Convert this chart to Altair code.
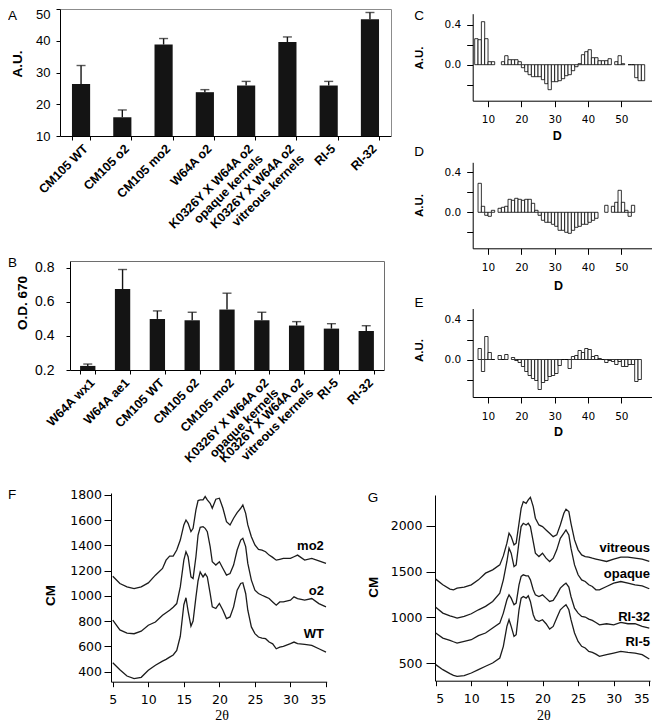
import altair as alt
import pandas as pd

# ---------------- data ----------------
A_cats = ["CM105 WT", "CM105 o2", "CM105 mo2", "W64A o2",
          "K0326Y X W64A o2|opaque kernels", "K0326Y X W64A o2|vitreous kernels",
          "RI-5", "RI-32"]
A_vals = [26.4, 15.9, 38.8, 23.8, 25.9, 39.6, 25.9, 46.8]
A_errs = [32.2, 18.2, 40.7, 24.6, 27.2, 41.2, 27.2, 48.9]

B_cats = ["W64A wx1", "W64A ae1", "CM105 WT", "CM105 o2", "CM105 mo2",
          "K0326Y X W64A o2|opaque kernels", "K0326Y X W64A o2|vitreous kernels",
          "RI-5", "RI-32"]
B_vals = [0.224, 0.675, 0.500, 0.492, 0.555, 0.492, 0.461, 0.443, 0.429]
B_errs = [0.235, 0.790, 0.547, 0.539, 0.651, 0.539, 0.484, 0.472, 0.460]

C_dp = [6, 7, 8, 9, 10, 11,
        14, 15, 16, 17, 18, 19,
        20, 21, 22, 23, 24, 25, 26, 27, 28, 29, 30, 31, 32, 33, 34, 35, 36,
        37, 38, 39, 40, 41, 42, 43, 44, 45, 46,
        48, 49, 50,
        52, 53, 54, 55, 56]
C_val = [0.26, 0.25, 0.43, 0.26, 0.03, 0.03,
         0.03, 0.09, 0.05, 0.05, 0.05, 0.03,
         -0.03, -0.07, -0.10, -0.12, -0.12, -0.12, -0.15, -0.19, -0.25, -0.17, -0.17, -0.16, -0.14, -0.11, -0.10, -0.06, -0.02,
         0.01, 0.10, 0.13, 0.15, 0.07, 0.07, 0.04, 0.04, 0.04, 0.06,
         0.03, 0.09, 0.01,
         0.0, 0.0, -0.13, -0.16, -0.16]

D_dp = [7, 8, 9, 10, 11,
        13, 14, 15, 16, 17, 18, 19, 20, 21, 22, 23, 24,
        25, 26, 27, 28, 29, 30, 31, 32, 33, 34, 35, 36, 37, 38, 39, 40, 41, 42,
        45, 47, 48, 49, 50, 51, 52, 53]
D_val = [0.29, 0.06, -0.03, -0.04, 0.02,
         0.04, 0.05, 0.06, 0.13, 0.12, 0.14, 0.13, 0.12, 0.13, 0.13, 0.09, 0.02,
         -0.03, -0.08, -0.10, -0.10, -0.12, -0.14, -0.18, -0.18, -0.20, -0.21, -0.18, -0.15, -0.14, -0.12, -0.12, -0.10, -0.08, -0.06,
         0.07, 0.06, 0.10, 0.22, 0.10, 0.02, -0.04, 0.07]

E_dp = [7, 8, 9, 10, 11,
        13, 14, 15,
        17, 18, 19, 20, 21, 22, 23, 24, 25, 26, 27, 28, 29, 30, 31, 32, 33, 34,
        35, 36, 37, 38, 39, 40, 41, 42, 43,
        44, 45, 46, 47, 48, 49, 50, 51, 52, 53, 54, 55]
E_val = [0.11, -0.12, 0.23, 0.07, 0.0,
         0.04, 0.0, 0.05,
         0.02, -0.01, -0.03, -0.07, -0.12, -0.16, -0.19, -0.21, -0.30, -0.23, -0.21, -0.17, -0.16, -0.14, -0.06, 0.0, 0.0, -0.09,
         0.03, 0.04, 0.09, 0.07, 0.11, 0.10, 0.03, 0.04, 0.01,
         0.0, -0.03, -0.01, -0.02, -0.05, -0.02, -0.07, -0.07, -0.05, -0.05, -0.22, -0.20]

F_x = [5, 6, 7, 8, 9, 10, 11, 12, 12.5, 13, 13.5, 14, 14.5, 15, 15.3, 15.6, 16, 16.3, 16.7,
       17, 17.3, 17.7, 18, 18.3, 18.7, 19, 19.5, 20, 20.5, 21, 21.5, 22, 22.5, 23, 23.3, 23.7,
       24, 24.5, 25, 25.5, 26, 26.5, 27, 27.5, 28, 28.5, 29, 30, 30.5, 31, 32, 33, 34, 35]
F_WT = [470, 415, 365, 345, 355, 410, 450, 483, 497, 515, 532, 568, 680, 930, 985, 880, 760, 800, 990,
        1120, 1190, 1150, 1175, 1150, 1020, 913, 900, 940, 886, 820, 833, 913, 1045, 1098, 1104, 1019,
        886, 754, 701, 674, 666, 661, 634, 620, 581, 594, 600, 621, 634, 621, 616, 608, 581, 555]
F_o2 = [807, 730, 705, 700, 720, 767, 793, 846, 866, 886, 910, 939, 1071, 1283, 1350, 1310, 1151, 1138, 1310,
        1482, 1543, 1548, 1535, 1509, 1390, 1270, 1244, 1270, 1217, 1164, 1177, 1244, 1363, 1442, 1456, 1390,
        1257, 1125, 1045, 1019, 1005, 992, 979, 952, 926, 952, 952, 966, 992, 979, 966, 979, 939, 913]
F_mo2 = [1156, 1098, 1071, 1058, 1071, 1103, 1164, 1217, 1283, 1315, 1315, 1363, 1442, 1562, 1601, 1575, 1509, 1535, 1681,
         1755, 1760, 1760, 1787, 1760, 1734, 1694, 1766, 1774, 1694, 1588, 1562, 1615, 1660, 1694, 1720, 1654,
         1562, 1469, 1403, 1368, 1363, 1350, 1323, 1305, 1283, 1290, 1297, 1297, 1310, 1323, 1283, 1297, 1278, 1257]
F_names = ["mo2", "o2", "WT"]
F_label_y = [1395, 1041, 698]

G_x = [5, 6, 7, 7.5, 8, 9, 10, 11, 12, 13, 14, 14.5, 15, 15.3, 15.6, 16, 16.3, 16.7,
       17, 17.3, 17.7, 18, 18.3, 18.7, 19, 19.5, 20, 20.5, 21, 21.5, 22, 22.5, 23, 23.3, 23.7,
       24, 24.5, 25, 25.5, 26, 26.5, 27, 27.5, 28, 29, 30, 31, 32, 33, 34, 35]
G_vit = [1417, 1355, 1308, 1301, 1319, 1330, 1355, 1409, 1482, 1518, 1572, 1670, 1808, 1917, 1880, 1790, 1808, 2025,
         2188, 2261, 2243, 2279, 2308, 2207, 2080, 2007, 1989, 1953, 1917, 1880, 1899, 2007, 2134, 2178, 2152,
         2025, 1844, 1736, 1681, 1663, 1656, 1645, 1636, 1627, 1609, 1634, 1656, 1656, 1645, 1634, 1609]
G_opq = [1112, 1047, 1018, 1005, 993, 1011, 1040, 1083, 1120, 1174, 1265, 1409, 1609, 1754, 1699, 1554, 1572, 1826,
         1989, 2025, 2007, 2025, 1989, 1826, 1699, 1663, 1699, 1645, 1609, 1645, 1736, 1862, 1917, 1953, 1899,
         1754, 1572, 1464, 1409, 1391, 1355, 1337, 1301, 1301, 1337, 1373, 1391, 1373, 1355, 1344, 1312]
G_r32 = [830, 775, 750, 735, 721, 739, 757, 801, 830, 884, 938, 1047, 1192, 1246, 1210, 1138, 1156, 1355,
         1446, 1464, 1453, 1453, 1409, 1301, 1246, 1228, 1246, 1210, 1174, 1185, 1246, 1319, 1355, 1373, 1330,
         1228, 1101, 1047, 1011, 1004, 982, 967, 945, 920, 931, 920, 946, 931, 931, 902, 884]
G_r5 = [486, 431, 388, 370, 359, 366, 395, 431, 468, 504, 558, 685, 902, 975, 902, 794, 812, 1083,
        1210, 1228, 1210, 1236, 1174, 1029, 975, 957, 975, 931, 873, 902, 993, 1083, 1120, 1138, 1083,
        975, 830, 739, 685, 667, 630, 620, 600, 576, 594, 612, 630, 620, 612, 594, 547]
G_names = ["vitreous", "opaque", "RI-32", "RI-5"]
G_label_y = [1756, 1473, 1008, 736]

# ---------------- layout (plot coordinates) ----------------
W, H = 644, 716
SANS = "Liberation Sans"
NUM = "DejaVu Sans"
SERIF = "Liberation Serif"
INK = "#141414"


def bar_panel(cats, vals, errs, xr, yr, ydom, yvals, yfmt, ytitle, tpos,
              ylab_size, ylab_pad, frame_color, top_shift):
    df = pd.DataFrame({"cat": cats, "val": vals, "err": errs})
    xs = alt.Scale(domain=cats, range=list(xr), paddingInner=0.56, paddingOuter=0.29)
    ys = alt.Scale(domain=ydom, range=list(yr), zero=False, nice=False)
    xaxis = alt.Axis(orient="bottom", offset=yr[0] - H, title=None,
                     labelExpr="split(datum.label, '|')", labelAngle=315,
                     labelAlign="right", labelBaseline="top", labelFont=SANS,
                     labelFontWeight="bold", labelFontSize=12.5, labelLineHeight=14,
                     labelPadding=2, labelOverlap=False, labelLimit=400,
                     tickSize=4, tickBand="extent")
    yaxis = alt.Axis(orient="left", offset=-xr[0], values=yvals, format=yfmt,
                     title=ytitle, titleX=tpos[0] - xr[0], titleY=tpos[1],
                     titleAngle=270, titleAlign="center", titleBaseline="middle",
                     titleFont=SANS, titleFontSize=13.5, titleFontWeight="bold",
                     labelFont=SANS, labelFontSize=ylab_size, labelPadding=ylab_pad,
                     labelOffset={"condition": {"test": "datum.value == %s" % yvals[-1],
                                                "value": top_shift}, "value": 0},
                     tickSize=4)
    bars = alt.Chart(df).mark_bar(color=INK).encode(
        x=alt.X("cat:N", sort=cats, scale=xs, axis=xaxis),
        y=alt.Y("val:Q", scale=ys, axis=yaxis),
        y2=alt.datum(ydom[0]))
    top_axis = alt.Axis(orient="top", offset=-yr[1], labels=False, ticks=False,
                        title=None, domainColor=frame_color)
    right_axis = alt.Axis(orient="right", offset=xr[1] - W, labels=False, ticks=False,
                          title=None, domainColor=frame_color)
    rules = alt.Chart(df).mark_rule(color=INK, strokeWidth=1.4).encode(
        x=alt.X("cat:N", sort=cats, scale=xs, axis=top_axis),
        y=alt.Y("val:Q", scale=ys, axis=right_axis),
        y2=alt.Y2("err"))
    caps = alt.Chart(df).mark_tick(color=INK, thickness=1.4, size=9).encode(
        x=alt.X("cat:N", sort=cats, scale=xs, axis=None),
        y=alt.Y("err:Q", scale=ys, axis=None))
    return [bars, rules, caps]


def dp_panel(dps, vals, yr, ydom, xtitle_pos, ytitle_y):
    df = pd.DataFrame({"dp": dps, "val": vals})
    xr = (464.7, 644.7)
    xs = alt.Scale(domain=[5.4, 59.4], range=list(xr), zero=False, nice=False)
    ys = alt.Scale(domain=ydom, range=list(yr), zero=False, nice=False)
    xaxis = alt.Axis(orient="bottom", offset=yr[0] - H, values=[10, 20, 30, 40, 50],
                     title="D", titleX=xtitle_pos[0], titleY=xtitle_pos[1] - yr[0],
                     titleAlign="center", titleBaseline="middle", titleFont=SANS,
                     titleFontSize=12.5, titleFontWeight="bold",
                     labelFont=NUM, labelFontSize=10.5, tickSize=6, labelPadding=8)
    yaxis = alt.Axis(orient="left", offset=-xr[0], values=[-0.2, 0, 0.2, 0.4], format=".1f",
                     labelExpr="datum.value == 0 || datum.value == 0.4 ? datum.label : ''",
                     title="A.U.", titleX=411 - xr[0], titleY=ytitle_y, titleAngle=270,
                     titleAlign="center", titleBaseline="middle", titleFont=SANS,
                     titleFontSize=11.5, titleFontWeight="bold",
                     labelFont=NUM, labelFontSize=10.5, tickSize=6, labelPadding=6)
    return [alt.Chart(df).transform_calculate(dp2="datum.dp + 1").mark_bar(
        fill="white", stroke="black", strokeWidth=0.8).encode(
        x=alt.X("dp:Q", scale=xs, axis=xaxis),
        x2=alt.X2("dp2"),
        y=alt.Y("val:Q", scale=ys, axis=yaxis),
        y2=alt.datum(0))]


def xrd_panel(xs_vals, series, names, xr, yr, xdom, ydom, yvals, ytick, ylabpad,
              ytitle_x, ytitle_y, xtitle_x, xtitle_y, label_x, label_y):
    rows = []
    for name, ys_ in zip(names, series):
        for xv, yv in zip(xs_vals, ys_):
            rows.append({"two_theta": xv, "cm": yv, "series": name})
    df = pd.DataFrame(rows)
    xs = alt.Scale(domain=xdom, range=list(xr), zero=False, nice=False)
    ys = alt.Scale(domain=ydom, range=list(yr), zero=False, nice=False)
    xaxis = alt.Axis(orient="bottom", offset=yr[0] - H, values=[5, 10, 15, 20, 25, 30, 35],
                     format="d",
                     title="2θ", titleX=xtitle_x, titleY=xtitle_y - yr[0],
                     titleAlign="center", titleBaseline="middle", titleFont=SERIF,
                     titleFontSize=14, titleFontWeight="normal",
                     labelFont=NUM, labelFontSize=12.5, tickSize=5, labelPadding=7)
    yaxis = alt.Axis(orient="left", offset=-xr[0], values=yvals, format="d",
                     title="CM", titleX=ytitle_x - xr[0], titleY=ytitle_y, titleAngle=270,
                     titleAlign="center", titleBaseline="middle", titleFont=SANS,
                     titleFontSize=13.5, titleFontWeight="bold",
                     labelFont=NUM, labelFontSize=12.5, tickSize=ytick, labelPadding=ylabpad)
    lines = alt.Chart(df).mark_line(color="#1c1c1c", strokeWidth=1.3).encode(
        x=alt.X("two_theta:Q", scale=xs, axis=xaxis),
        y=alt.Y("cm:Q", scale=ys, axis=yaxis),
        detail=alt.Detail("series:N"))
    ldf = pd.DataFrame({"series": names, "cm": label_y, "two_theta": [label_x] * len(names)})
    labels = alt.Chart(ldf).mark_text(align="right", baseline="middle", font=SANS,
                                      fontSize=13, fontWeight="bold", color="black").encode(
        x=alt.X("two_theta:Q", scale=xs, axis=None),
        y=alt.Y("cm:Q", scale=ys, axis=None),
        text="series:N")
    return [lines, labels]


def letter(t, x, y, align="center"):
    return alt.Chart(pd.DataFrame({"t": [t]})).mark_text(
        align=align, baseline="middle", font=SANS, fontSize=13.5, color="black").encode(
        text="t:N", x=alt.value(x), y=alt.value(y))


layers = []
layers += bar_panel(A_cats, A_vals, A_errs, (52, 383), (128, 1), [10, 50],
                    [10, 20, 30, 40, 50], "d", "A.U.", (9, 55.5), 13, 6, "#8c8c8c", 5)
layers += bar_panel(B_cats, B_vals, B_errs, (62, 376), (362, 253), [0.2, 0.84],
                    [0.2, 0.4, 0.6, 0.8], ".1f", "O.D. 670", (14, 294.5), 14, 12, "#6e6e6e", 0)
layers += dp_panel(C_dp, C_val, (92.7, 5.7), [-0.36, 0.51], (548.7, 127), 49.5)
layers += dp_panel(D_dp, D_val, (240.3, 154.3), [-0.36, 0.50], (550, 277), 197)
layers += dp_panel(E_dp, E_val, (389.0, 300.5), [-0.375, 0.51], (550, 423.7), 342)
layers += xrd_panel(F_x, [F_mo2, F_o2, F_WT], F_names, (103, 318.7), (673.7, 485),
                    [4.75, 35.1], [320, 1815], [400, 600, 800, 1000, 1200, 1400, 1600, 1800],
                    7, 2.5, 42, 587, 213.7, 707.5, 34.7, F_label_y)
layers += xrd_panel(G_x, [G_vit, G_opq, G_r32, G_r5], G_names, (427, 642), (672.7, 487),
                    [4.9, 35.1], [311, 2333], [500, 1000, 1500, 2000],
                    9, 4, 365.3, 578.7, 535.3, 707.5, 35.1, G_label_y)
layers += [letter("A", 0, 8, "left"), letter("B", 0, 255, "left"),
           letter("C", 411, 8), letter("D", 411, 144), letter("E", 411, 295),
           letter("F", 0, 487, "left"), letter("G", 365, 490)]

chart = alt.layer(*layers).resolve_scale(
    x="independent", y="independent").resolve_axis(
    x="independent", y="independent").properties(
    width=W, height=H, autosize=alt.AutoSizeParams(type="none"), padding=0).configure_view(
    stroke=None).configure_axis(
    domainColor="black", tickColor="black", labelColor="black", titleColor="black",
    grid=False, domainWidth=1, tickWidth=1)

chart.save("out.html", embed_options={"renderer": "svg", "actions": False})
